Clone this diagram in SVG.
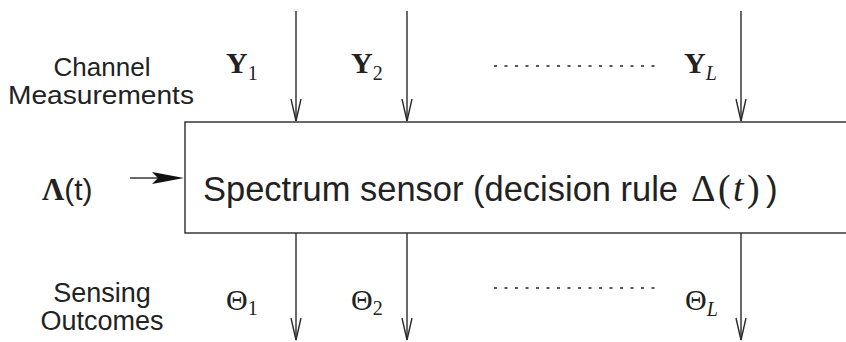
<svg xmlns="http://www.w3.org/2000/svg" width="846" height="342" viewBox="0 0 846 342">
  <style>
    .ln { stroke: #2a2a2a; stroke-width: 1.4; fill: none; }
    .sans { font-family: "Liberation Sans", Arial, sans-serif; fill: #222; }
    .ser { font-family: "Liberation Serif", "Times New Roman", serif; fill: #222; }
    .dots { stroke: #222; stroke-width: 1.3; stroke-dasharray: 3 7.5; }
  </style>
  <defs>
    <marker id="v" markerUnits="userSpaceOnUse" markerWidth="26" markerHeight="14" viewBox="-24 -7 26 14" refX="0" refY="0" orient="auto">
      <path d="M-22,-5 L0,0 L-22,5" fill="none" stroke="#2a2a2a" stroke-width="1.4"/>
    </marker>
  </defs>
  <rect width="846" height="342" fill="#fff"/>

  <g id="sensor">
    <rect x="185" y="122" width="680" height="111" class="ln"/>
    <text x="203" y="201" class="sans" font-size="35" textLength="475" lengthAdjust="spacingAndGlyphs">Spectrum sensor (decision rule</text>
    <text x="691" y="201" class="ser" font-size="38">Δ</text>
    <text x="718" y="201" class="ser" font-size="38">(</text>
    <text x="733" y="201" class="ser" font-size="38" font-style="italic">t</text>
    <text x="747" y="201" class="ser" font-size="38">)</text>
    <text x="766" y="201" class="sans" font-size="35">)</text>
  </g>

  <g id="channel-label">
    <text x="102" y="76" class="sans" font-size="26" text-anchor="middle">Channel</text>
    <text x="101" y="104" class="sans" font-size="26" text-anchor="middle" textLength="186" lengthAdjust="spacingAndGlyphs">Measurements</text>
  </g>

  <g id="sensing-label">
    <text x="102" y="302" class="sans" font-size="27" text-anchor="middle">Sensing</text>
    <text x="102" y="330" class="sans" font-size="27" text-anchor="middle">Outcomes</text>
  </g>

  <g id="lambda">
    <text x="42" y="200" class="ser" font-size="31" font-weight="bold">Λ<tspan class="sans" font-weight="normal" font-size="30">(t)</tspan></text>
  </g>

  <g id="y-labels">
    <text x="226" y="73" class="ser" font-size="30" font-weight="bold">Y<tspan font-weight="normal" font-size="20" dy="7">1</tspan></text>
    <text x="351" y="73" class="ser" font-size="30" font-weight="bold">Y<tspan font-weight="normal" font-size="20" dy="7">2</tspan></text>
    <text x="684" y="73" class="ser" font-size="30" font-weight="bold">Y<tspan font-weight="normal" font-style="italic" font-size="20" dy="7">L</tspan></text>
  </g>

  <g id="theta-labels">
    <text x="226" y="310" class="ser" font-size="30">Θ<tspan font-size="20" dy="5">1</tspan></text>
    <text x="351" y="310" class="ser" font-size="30">Θ<tspan font-size="20" dy="5">2</tspan></text>
    <text x="685" y="310" class="ser" font-size="30">Θ<tspan font-style="italic" font-size="20" dy="6">L</tspan></text>
  </g>

  <g id="connectors">
    <line x1="296" y1="11" x2="296" y2="121" class="ln" marker-end="url(#v)"/>
    <line x1="407" y1="11" x2="407" y2="121" class="ln" marker-end="url(#v)"/>
    <line x1="741" y1="11" x2="741" y2="121" class="ln" marker-end="url(#v)"/>
    <line x1="296" y1="233" x2="296" y2="340" class="ln" marker-end="url(#v)"/>
    <line x1="407" y1="233" x2="407" y2="340" class="ln" marker-end="url(#v)"/>
    <line x1="741" y1="233" x2="741" y2="340" class="ln" marker-end="url(#v)"/>
    <line x1="130" y1="178" x2="160" y2="178" class="ln"/>
    <path d="M184,178 L152,172 L158,178 L152,184 Z" fill="#111"/>
    <line x1="494" y1="66" x2="655" y2="66" class="dots"/>
    <line x1="494" y1="288" x2="655" y2="288" class="dots"/>
  </g>
</svg>
